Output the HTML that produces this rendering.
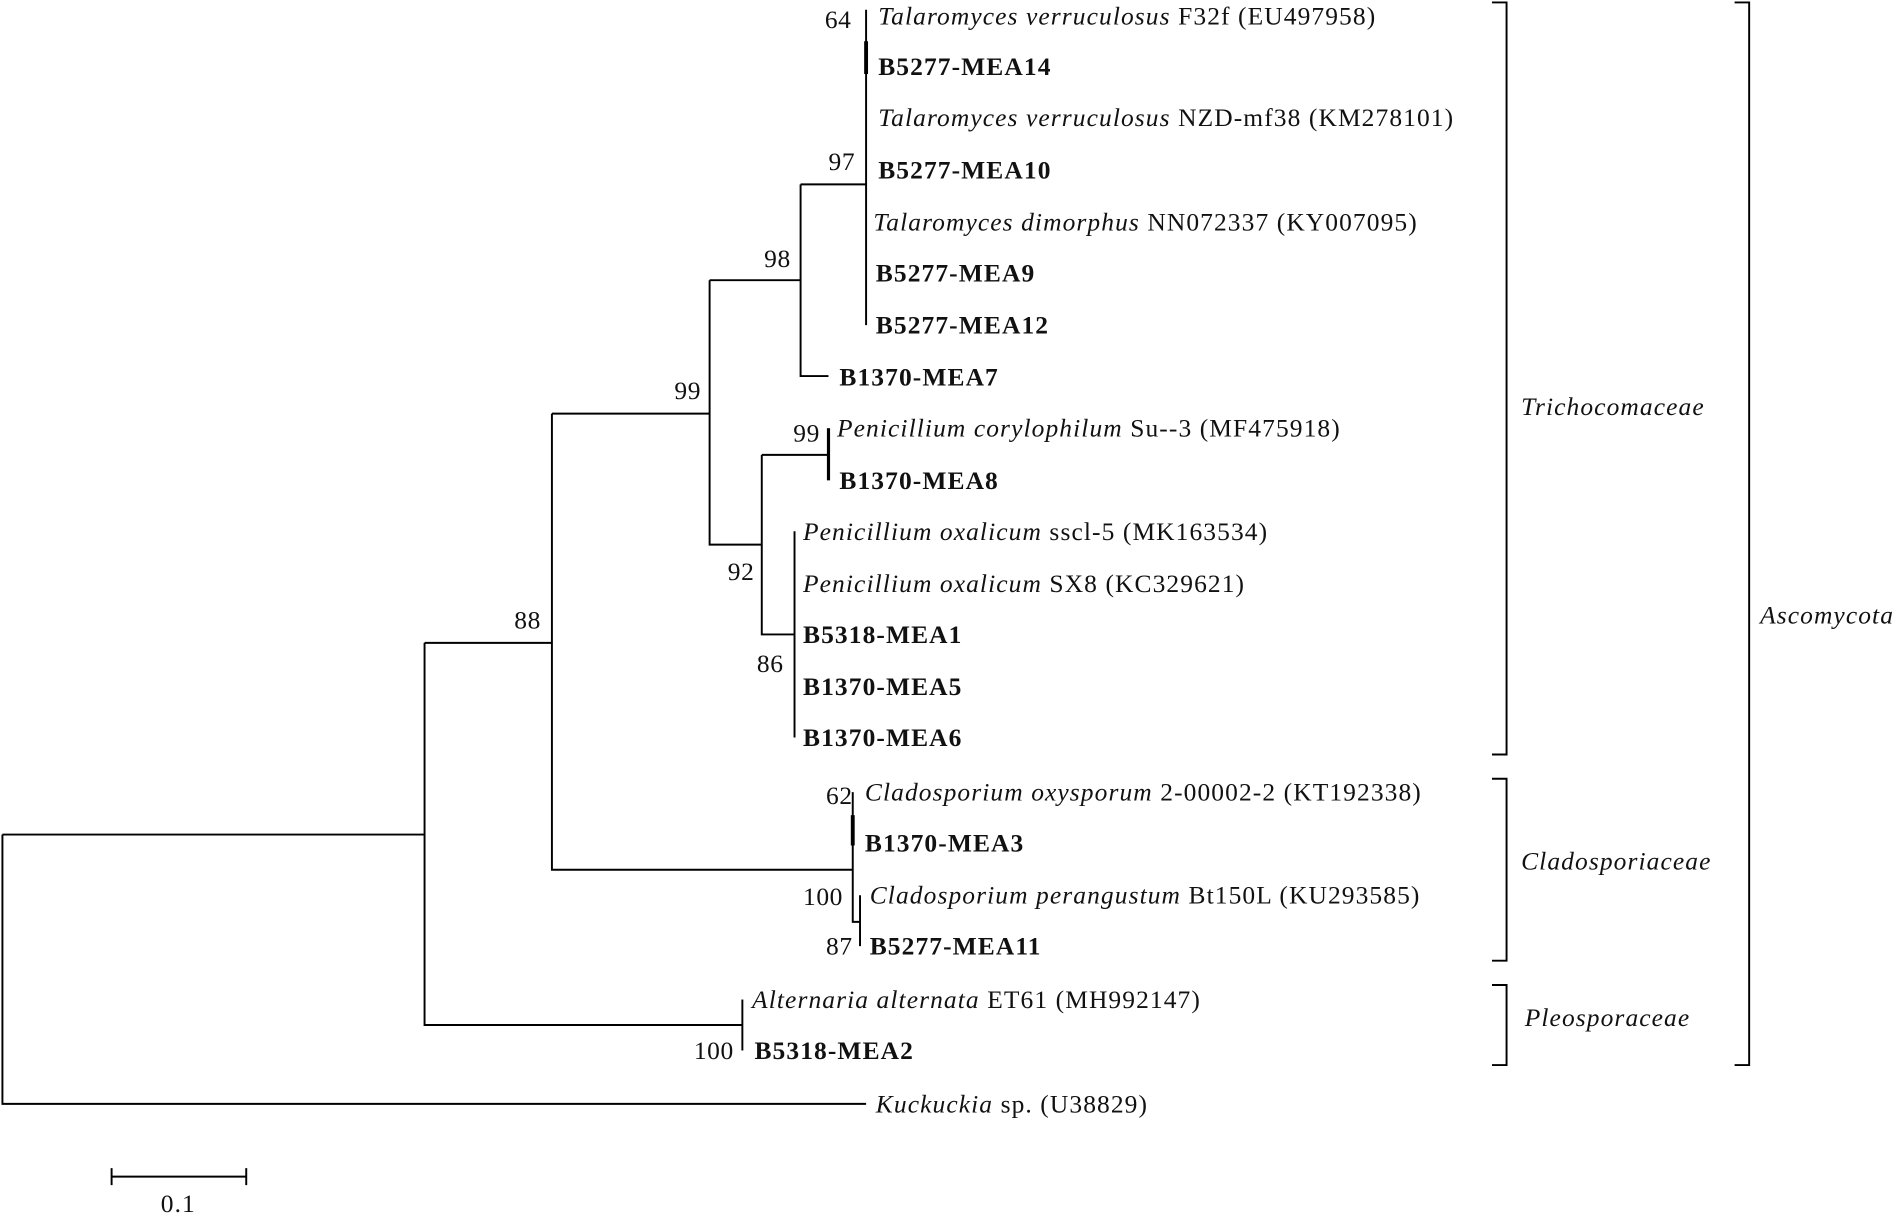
<!DOCTYPE html>
<html><head><meta charset="utf-8"><style>
html,body{margin:0;padding:0;background:#fff}
svg{display:block}
text{font-family:"Liberation Serif",serif;font-size:21px;letter-spacing:0.9px;fill:#111}
.b{font-weight:bold}
.n{text-anchor:end;letter-spacing:0.5px}
</style></head><body>
<svg width="1902" height="1222" viewBox="0 0 1568 1007.4" preserveAspectRatio="none">
<g stroke="#000" stroke-width="1.6" fill="none">
<path d="M2 688V910H714M2 688H350"/>
<path d="M350 530V845H612M350 530H455"/>
<path d="M612 824V866"/>
<path d="M455 341V717H703M455 341H585"/>
<path d="M703 653V760H709M709 738V780"/>
<path d="M703 672V697" stroke-width="3.2"/>
<path d="M585 231V449H628M585 231H660"/>
<path d="M660 152V310H683M660 152H714"/>
<path d="M714 8V268"/>
<path d="M714 34V61" stroke-width="3.2"/>
<path d="M628 375V523H655M628 375H683"/>
<path d="M683 353V396" stroke-width="2.6"/>
<path d="M655 438V608"/>
<path d="M1230 2H1242V622H1230M1230 642H1242V792H1230M1230 812H1242V878H1230M1430 2H1442V878H1430"/>
<path d="M92 970H203M92 963V977M203 963V977"/>
</g>
<text class="n" x="702" y="23">64</text>
<text class="n" x="705" y="140">97</text>
<text class="n" x="652" y="220">98</text>
<text class="n" x="578" y="329">99</text>
<text class="n" x="676" y="364">99</text>
<text class="n" x="622" y="478">92</text>
<text class="n" x="646" y="554">86</text>
<text class="n" x="446" y="518">88</text>
<text class="n" x="703" y="663">62</text>
<text class="n" x="695" y="746">100</text>
<text class="n" x="703" y="787">87</text>
<text class="n" x="605" y="873">100</text>
<text x="724" y="20"><tspan font-style="italic">Talaromyces verruculosus</tspan> F32f (EU497958)</text>
<text x="724" y="62" class="b">B5277-MEA14</text>
<text x="724" y="104"><tspan font-style="italic">Talaromyces verruculosus</tspan> NZD-mf38 (KM278101)</text>
<text x="724" y="147" class="b">B5277-MEA10</text>
<text x="720" y="190"><tspan font-style="italic">Talaromyces dimorphus</tspan> NN072337 (KY007095)</text>
<text x="722" y="232" class="b">B5277-MEA9</text>
<text x="722" y="275" class="b">B5277-MEA12</text>
<text x="692" y="318" class="b">B1370-MEA7</text>
<text x="690" y="360"><tspan font-style="italic">Penicillium corylophilum</tspan> Su--3 (MF475918)</text>
<text x="692" y="403" class="b">B1370-MEA8</text>
<text x="662" y="445"><tspan font-style="italic">Penicillium oxalicum</tspan> sscl-5 (MK163534)</text>
<text x="662" y="488"><tspan font-style="italic">Penicillium oxalicum</tspan> SX8 (KC329621)</text>
<text x="662" y="530" class="b">B5318-MEA1</text>
<text x="662" y="573" class="b">B1370-MEA5</text>
<text x="662" y="615" class="b">B1370-MEA6</text>
<text x="713" y="660"><tspan font-style="italic">Cladosporium oxysporum</tspan> 2-00002-2 (KT192338)</text>
<text x="713" y="702" class="b">B1370-MEA3</text>
<text x="717" y="745"><tspan font-style="italic">Cladosporium perangustum</tspan> Bt150L (KU293585)</text>
<text x="717" y="787" class="b">B5277-MEA11</text>
<text x="620" y="831"><tspan font-style="italic">Alternaria alternata</tspan> ET61 (MH992147)</text>
<text x="622" y="873" class="b">B5318-MEA2</text>
<text x="722" y="917"><tspan font-style="italic">Kuckuckia</tspan> sp. (U38829)</text>
<text x="1254" y="342" font-style="italic">Trichocomaceae</text>
<text x="1254" y="717" font-style="italic">Cladosporiaceae</text>
<text x="1257" y="846" font-style="italic">Pleosporaceae</text>
<text x="1451" y="514" font-style="italic">Ascomycota</text>
<text x="147" y="999" text-anchor="middle">0.1</text>
</svg>
</body></html>
